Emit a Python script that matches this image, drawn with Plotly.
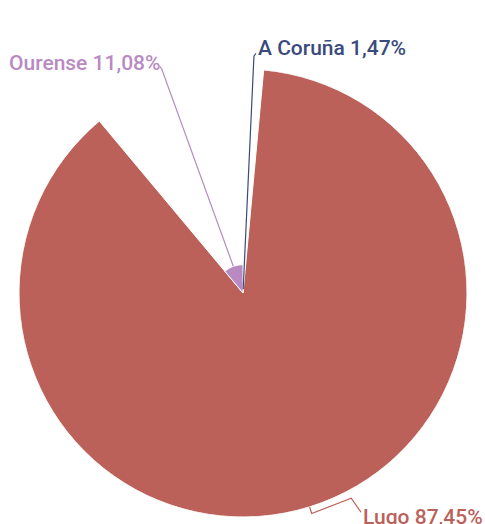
import math
import plotly.graph_objects as go

# ---- data ----
provinces = ["A Coruña", "Lugo", "Ourense"]
shares = [1.47, 87.45, 11.08]
colors = ["#3b4a7c", "#bc6159", "#b98ac2"]

W, H = 485, 524
CX, CY = 243, 293          # pie centre in pixels (from top-left)
R = 224                    # pixel radius of the largest slice

# angles (clockwise from top)
total = sum(shares)
widths = [s / total * 360 for s in shares]
starts = []
acc = 0
for w in widths:
    starts.append(acc)
    acc += w
mids = [s + w / 2 for s, w in zip(starts, widths)]
rmax = max(shares)

fig = go.Figure()
fig.add_trace(go.Barpolar(
    r=shares, theta=mids, width=widths,
    marker=dict(color=colors, line=dict(color="white", width=1)),
    hoverinfo="skip", showlegend=False,
))

fig.update_layout(
    width=W, height=H,
    margin=dict(l=0, r=0, t=0, b=0),
    paper_bgcolor="white", plot_bgcolor="white",
    polar=dict(
        domain=dict(x=[(CX - R) / W, (CX + R) / W],
                    y=[(H - CY - R) / H, (H - CY + R) / H]),
        bgcolor="white",
        bargap=0,
        radialaxis=dict(visible=False, range=[0, rmax], showgrid=False),
        angularaxis=dict(visible=False, rotation=90, direction="clockwise",
                         showgrid=False),
    ),
)

def px(r_px, ang):
    a = math.radians(ang)
    return CX + r_px * math.sin(a), CY - r_px * math.cos(a)

def paper(x, y):
    return x / W, 1 - y / H

def path(points):
    d = ""
    for i, (x, y) in enumerate(points):
        xp, yp = paper(x, y)
        d += ("M" if i == 0 else "L") + f"{xp:.5f},{yp:.5f}"
    return d

def label(i):
    return f"{provinces[i]} {shares[i]:.2f}%".replace(".", ",")

font_family = "Roboto"
fsize = 21

def add_label(i, x, y, anchor):
    xp, yp = paper(x, y)
    fig.add_annotation(x=xp, y=yp, xref="paper", yref="paper", text=label(i),
                       showarrow=False, xanchor=anchor, yanchor="middle",
                       font=dict(family=font_family, size=fsize, color=colors[i],
                                 weight=500))

# A Coruña: connector along mid angle to top label
i = 0
p0 = px(shares[i] / rmax * R, mids[i])
p1 = px(237, mids[i])
fig.add_shape(type="path", xref="paper", yref="paper",
              path=path([p0, p1, (p1[0] + 2, p1[1] - 3)]),
              line=dict(color=colors[i], width=1.2))
add_label(i, p1[0] + 2, p1[1] - 8, "left")

# Ourense: connector along mid angle
i = 2
p0 = px(shares[i] / rmax * R, mids[i])
p1 = px(238, mids[i])
fig.add_shape(type="path", xref="paper", yref="paper",
              path=path([p0, p1, (p1[0] - 2, p1[1] - 3)]),
              line=dict(color=colors[i], width=1.2))
add_label(i, p1[0] + 1, p1[1] - 6, "right")

# Lugo: bent connector from slice edge
i = 1
p0 = px(R, mids[i])
p1 = px(R + 7, mids[i])
p2 = px(R + 8, mids[i] - 10.5)
p3 = px(R + 25, mids[i] - 11)
fig.add_shape(type="path", xref="paper", yref="paper",
              path=path([p0, p1, p2, p3]),
              line=dict(color=colors[i], width=1.2))
add_label(i, p3[0], p3[1] + 5, "left")

fig.write_html("out.html", config={"displayModeBar": False},
               post_script="document.body.style.margin='0';")
